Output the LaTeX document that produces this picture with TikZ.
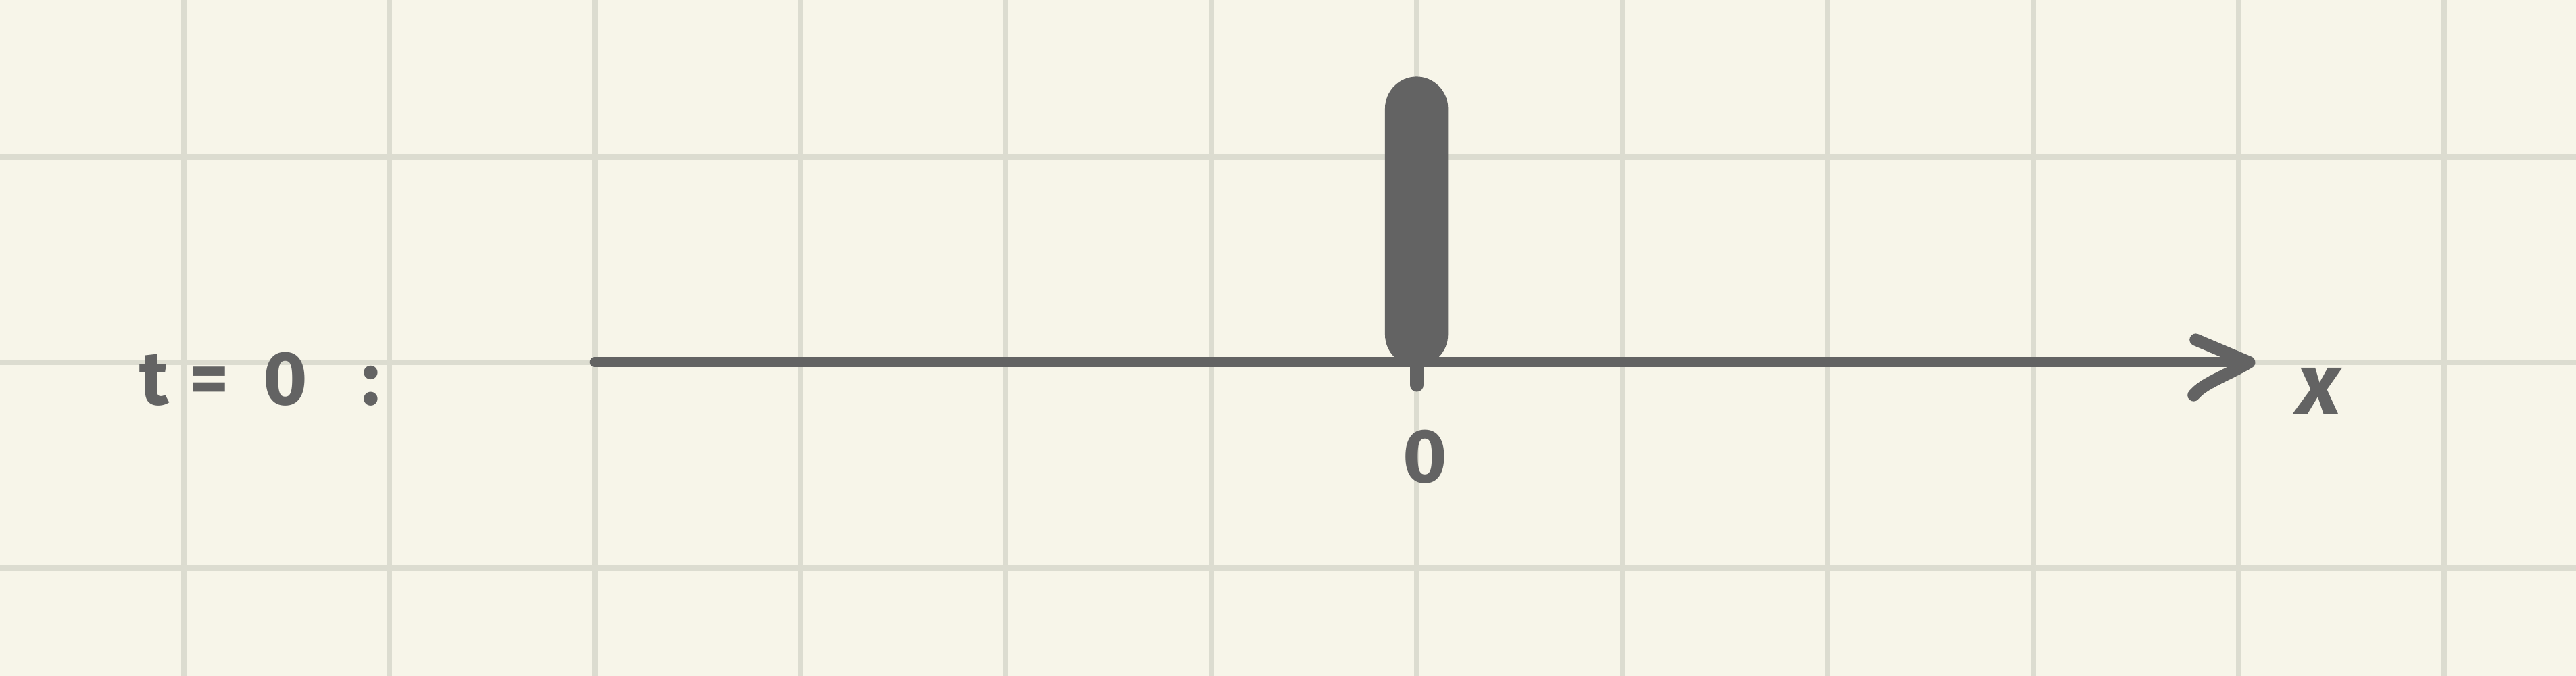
\documentclass[tikz,border=0pt]{standalone}
\usepackage{fontspec}
\setmainfont{Fira Sans}
\definecolor{paper}{HTML}{F7F5E9}
\definecolor{gridc}{HTML}{DCDCD0}
\definecolor{ink}{HTML}{636363}
\tikzset{
  axis/.style={draw=ink, line width=1.4pt, line cap=round, line join=round},
  lbl/.style={text=ink, font=\fontsize{10.5}{12}\selectfont\bfseries, inner sep=0pt},
}
\begin{document}
\begin{tikzpicture}
	% Papier
	\fill[paper] (-6.895,-1.526) rectangle (5.641,1.763);
	\useasboundingbox (-6.895,-1.526) rectangle (5.641,1.763);
	\foreach \i in {-6,...,5} \draw[gridc, line width=0.8pt] (\i,-1.526) -- (\i,1.763);
	\foreach \j in {-1,0,1} \draw[gridc, line width=0.8pt] (-6.895,\j) -- (5.641,\j);
	% Axe
	\coordinate (xmin) at (-4,0);
	\coordinate (xmax) at (4.05,0);
	\draw[axis] (xmin) -- (xmax);
	\draw[axis, line width=1.7pt] ([shift={(-0.26,0.11)}]xmax) -- (xmax)
		.. controls ([shift={(-0.12,-0.07)}]xmax) and ([shift={(-0.22,-0.1)}]xmax) .. ([shift={(-0.27,-0.16)}]xmax);
	% Pic
	\fill[ink, rounded corners=0.155cm] (-0.155,-0.02) rectangle (0.152,1.39);
	\draw[axis, line width=1.9pt] (0,0) -- (0,-0.11);
	% Textes
	\node[lbl] (temps) at (-5.63,-0.08) {t\;=\;\,0\;\;\,:};
	\node[lbl] (zero) at (0.04,-0.46) {0};
	\node[lbl, font=\fontsize{12}{14}\selectfont\bfseries\itshape] (xlab) at (4.39,-0.14) {x};
\end{tikzpicture}
\end{document}
